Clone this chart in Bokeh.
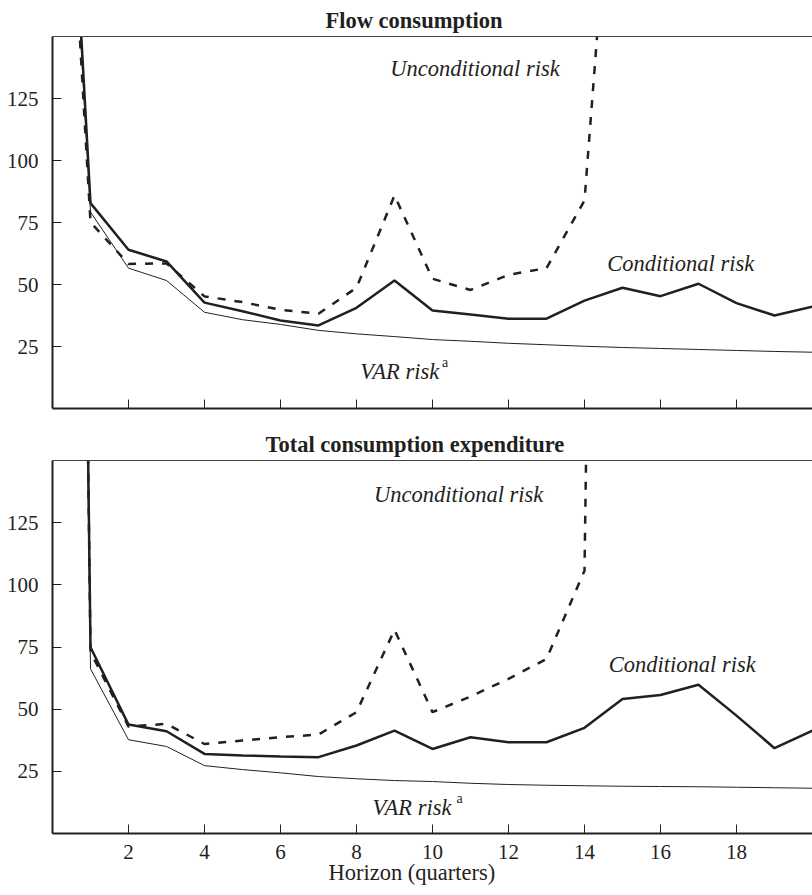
from bokeh.plotting import figure
from bokeh.models import Range1d, FixedTicker, LinearAxis, Label, Title
from bokeh.layouts import column
from bokeh.embed import file_html
from bokeh.resources import INLINE

# ---- data ----
horizon = list(range(0, 21))
x_ticks = [2, 4, 6, 8, 10, 12, 14, 16, 18]
y_ticks = [25, 50, 75, 100, 125]

flow_conditional = [360, 82.8, 64.0, 59.3, 42.7, 39.2, 35.5, 33.5, 40.6, 51.6, 39.5,
                    37.9, 36.2, 36.2, 43.5, 48.7, 45.3, 50.3, 42.5, 37.5, 41.1]
flow_unconditional = [340, 75.1, 58.3, 58.5, 45.2, 42.9, 39.8, 38.2, 48.7, 85.9, 52.3,
                      47.8, 53.9, 56.6, 83.9, 284]
flow_var = [350, 79.2, 56.6, 51.6, 38.8, 35.8, 33.9, 31.5, 30.1, 29.0, 27.8,
            27.1, 26.3, 25.7, 25.1, 24.6, 24.2, 23.8, 23.4, 23.0, 22.7]

total_conditional = [1300, 74.9, 43.8, 41.1, 32.0, 31.4, 31.0, 30.7, 35.4, 41.4, 34.0,
                     38.7, 36.7, 36.7, 42.5, 54.1, 55.7, 59.8, 47.4, 34.3, 41.4]
total_unconditional = [1300, 73.0, 43.0, 44.1, 36.0, 37.4, 38.7, 39.8, 48.8, 81.9, 48.8,
                       55.1, 62.2, 70.2, 105.7, 1200]
total_var = [1250, 66.2, 37.7, 35.0, 27.3, 25.7, 24.4, 22.9, 22.0, 21.3, 20.9,
             20.2, 19.7, 19.4, 19.2, 19.0, 18.9, 18.8, 18.6, 18.4, 18.2]

INK = "#231f20"
FONT = "Liberation Serif"


def make_panel(title, title_offset, cond, uncond, var, frame_height, border_top,
               border_bottom, show_xlabels, ann):
    p = figure(frame_width=760, frame_height=frame_height,
               x_range=Range1d(0, 20), y_range=Range1d(0, 150),
               output_backend="svg", toolbar_location=None,
               min_border_left=52, min_border_right=0,
               min_border_top=border_top, min_border_bottom=border_bottom)
    p.outline_line_color = None
    p.grid.visible = False
    p.background_fill_color = "white"
    p.border_fill_color = "white"

    p.title.text = title
    p.title.text_font = FONT
    p.title.text_font_style = "bold"
    p.title.text_font_size = "22.5px"
    p.title.text_color = INK
    p.title.align = "left"
    p.title.offset = title_offset
    p.title.standoff = 7

    xa = p.below[0]
    ya = p.left[0]

    xa.ticker = FixedTicker(ticks=x_ticks)
    xa.major_tick_in = 9
    xa.major_tick_out = 0
    xa.minor_tick_in = 0
    xa.minor_tick_out = 0
    xa.axis_line_width = 2
    xa.axis_line_color = INK
    xa.major_tick_line_color = INK
    xa.major_tick_line_width = 1
    xa.major_label_text_font = FONT
    xa.major_label_text_color = INK
    xa.major_label_text_font_size = "21px"
    if show_xlabels:
        xa.major_label_standoff = 11
    else:
        xa.major_label_overrides = {t: "" for t in x_ticks}
        xa.major_label_standoff = 0

    ya.ticker = FixedTicker(ticks=y_ticks)
    ya.major_tick_in = 9
    ya.major_tick_out = 0
    ya.minor_tick_in = 0
    ya.minor_tick_out = 0
    ya.axis_line_width = 2
    ya.axis_line_color = INK
    ya.major_tick_line_color = INK
    ya.major_tick_line_width = 1
    ya.major_label_text_font = FONT
    ya.major_label_text_font_size = "21px"
    ya.major_label_text_color = INK
    ya.major_label_standoff = 14

    top_axis = LinearAxis(ticker=FixedTicker(ticks=[]),
                          major_label_standoff=0, major_tick_in=0, major_tick_out=0,
                          minor_tick_in=0, minor_tick_out=0,
                          axis_line_width=1, axis_line_color="#444444")
    p.add_layout(top_axis, "above")

    p.line(horizon[:len(var)], var, line_color=INK, line_width=1)
    p.line(horizon[:len(uncond)], uncond, line_color=INK, line_width=2.5,
           line_dash="8 9")
    p.line(horizon[:len(cond)], cond, line_color=INK, line_width=2.5)

    for (tx, ty, txt, size, style) in ann:
        p.add_layout(Label(x=tx, y=ty, text=txt, text_font=FONT, text_font_size=size,
                           text_font_style=style, text_color=INK,
                           text_align="left", text_baseline="alphabetic"))
    return p


top_ann = [
    (8.89, 136.9, "Unconditional risk", "22.5px", "italic"),
    (14.6, 58.3, "Conditional risk", "22.5px", "italic"),
    (8.1, 15.1, "VAR risk", "22.5px", "italic"),
    (10.25, 18.4, "a", "14px", "normal"),
]
bot_ann = [
    (8.46, 136.5, "Unconditional risk", "22.5px", "italic"),
    (14.64, 68.0, "Conditional risk", "22.5px", "italic"),
    (8.42, 10.4, "VAR risk", "22.5px", "italic"),
    (10.63, 14.0, "a", "14px", "normal"),
]

p1 = make_panel("Flow consumption", 273, flow_conditional, flow_unconditional, flow_var,
                372, 36, 16, False, top_ann)
p2 = make_panel("Total consumption expenditure", 213, total_conditional,
                total_unconditional, total_var, 373, 36, 62, True, bot_ann)

xl = Title(text="Horizon (quarters)", text_font=FONT, text_font_size="22.5px",
           text_font_style="normal", text_color=INK, align="left", offset=276)
try:
    xl.standoff = -7
except Exception:
    xl.standoff = 0
p2.add_layout(xl, "below")

layout = column(p1, p2)
open("out.html", "w").write(file_html(layout, INLINE))
